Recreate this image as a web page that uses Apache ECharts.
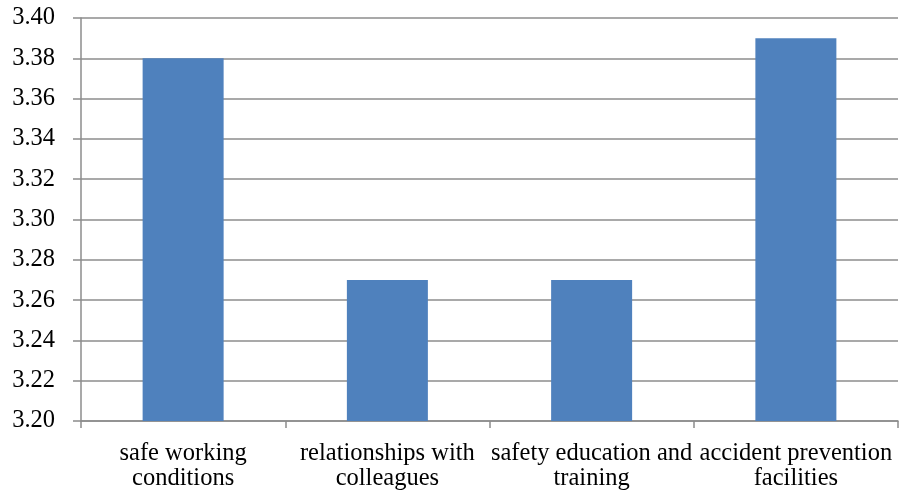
<!DOCTYPE html>
<html><head><meta charset="utf-8">
<script src="https://cdn.jsdelivr.net/npm/echarts@6/dist/echarts.min.js"></script>
<style>html,body{margin:0;padding:0;background:#fff}#c{width:903px;height:492px}</style>
</head><body><div id="c"></div>
<script>
const categories = ['safe working\nconditions', 'relationships with\ncolleagues', 'safety education and\ntraining', 'accident prevention\nfacilities'];
const values = [3.38, 3.27, 3.27, 3.39];
const yMin = 3.20, yMax = 3.40, yStep = 0.02;

const chart = echarts.init(document.getElementById('c'), null, {renderer: 'canvas'});
const font = '"Liberation Serif", "Times New Roman", serif';
chart.setOption({
  animation: false,
  backgroundColor: '#fff',
  grid: {left: 81, right: 5, top: 18, bottom: 71, containLabel: false},
  xAxis: {
    type: 'category', data: categories,
    axisLine: {lineStyle: {color: '#8c8c8c', width: 1.5}},
    axisTick: {show: true, length: 7, lineStyle: {color: '#8c8c8c', width: 1.5}},
    axisLabel: {fontFamily: font, fontSize: 24.5, color: '#000', lineHeight: 25, margin: 20, interval: 0}
  },
  yAxis: {
    type: 'value', min: yMin, max: yMax, interval: yStep,
    axisLine: {show: true, lineStyle: {color: '#8c8c8c', width: 1.5}},
    axisTick: {show: true, length: 8, lineStyle: {color: '#8c8c8c', width: 1.5}},
    splitLine: {lineStyle: {color: '#8c8c8c', width: 1.5}},
    axisLabel: {fontFamily: font, fontSize: 24.5, color: '#000', margin: 26, formatter: v => v.toFixed(2)}
  },
  series: [{
    type: 'bar', data: values, barWidth: 81,
    itemStyle: {color: '#4F81BD'}
  }]
});
</script></body></html>
